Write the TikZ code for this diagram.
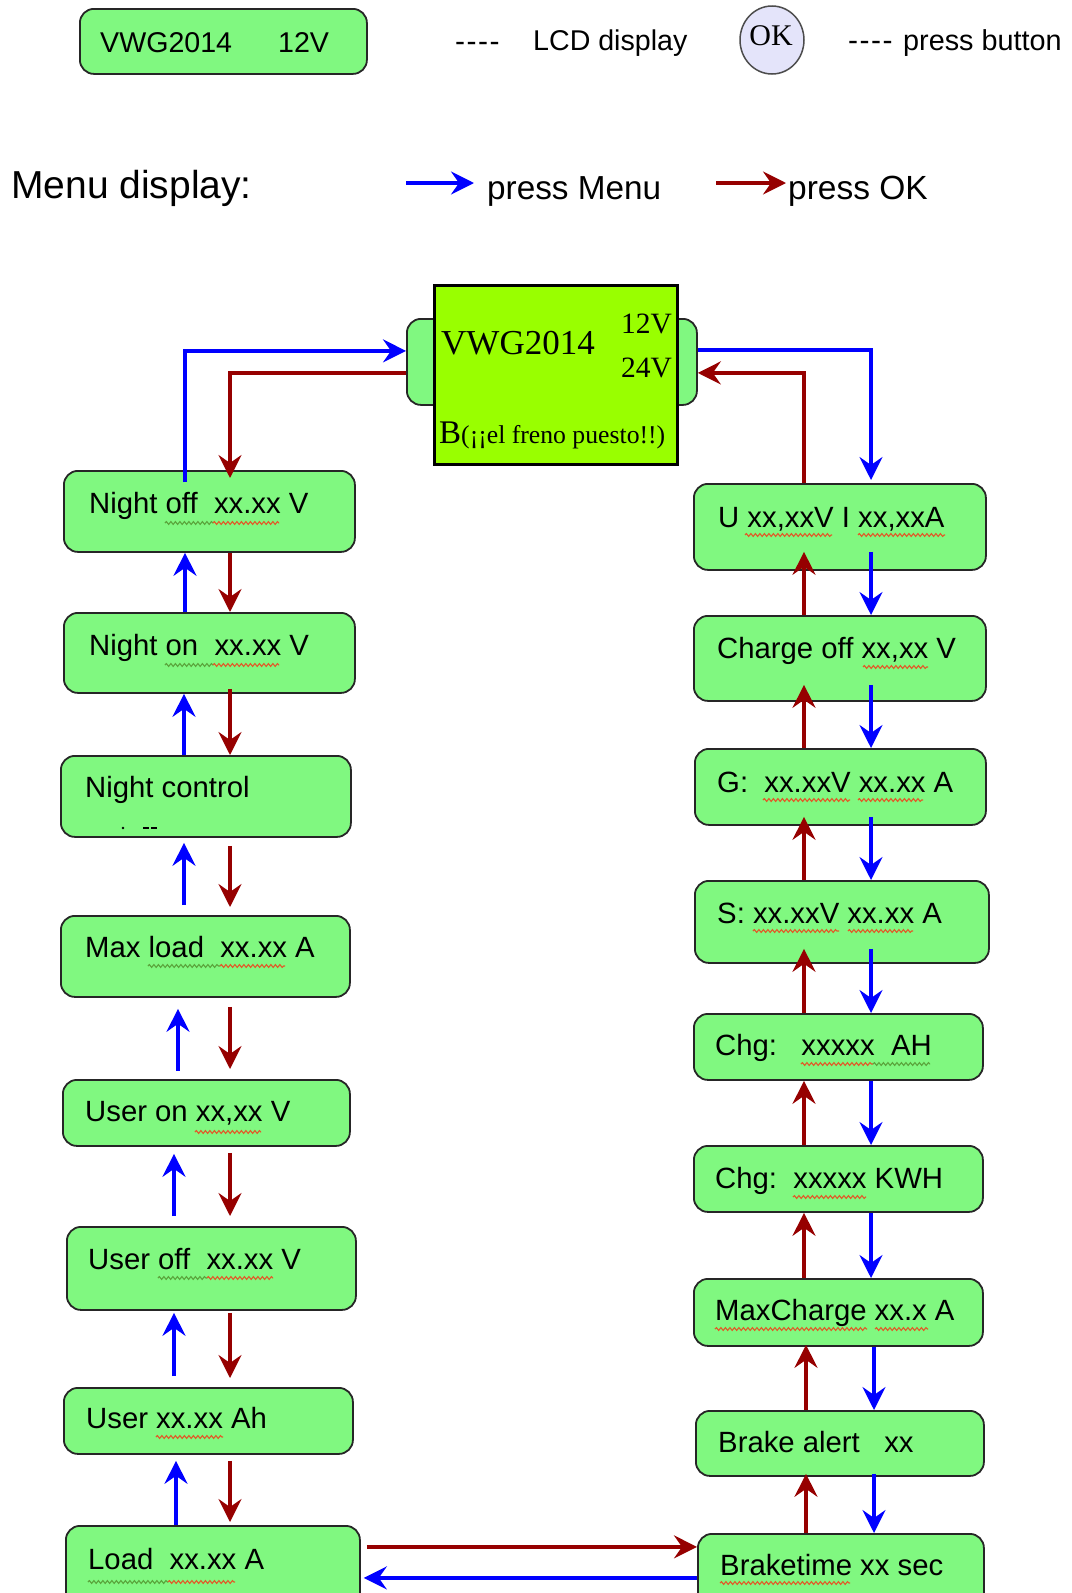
\documentclass[tikz,border=0pt]{standalone}
\usepackage{fontspec}
\setmainfont{Liberation Sans}
\newfontfamily\serifF{Liberation Serif}
\usetikzlibrary{arrows.meta,shapes.geometric,decorations.pathmorphing}
\definecolor{boxgreen}{RGB}{128,248,128}
\definecolor{lcdgreen}{RGB}{153,255,0}
\definecolor{okfill}{RGB}{228,228,250}
\definecolor{menublue}{RGB}{0,0,255}
\definecolor{okred}{RGB}{150,0,0}
\definecolor{sqred}{RGB}{225,90,40}
\definecolor{sqgreen}{RGB}{90,165,60}
\newcommand\hy{\mbox{-}}
\newcommand\fsz[1]{\fontsize{#1}{#1}\selectfont}
\begin{document}
\begin{tikzpicture}[x=1pt,y=-1pt,
  box/.style={draw=black!85, line width=1.8pt, rounded corners=14pt, fill=boxgreen, inner sep=0pt, anchor=north west},
  txt/.style={inner sep=0pt, anchor=base west, font=\fsz{29.3}},
  arr/.style={line width=3.2pt, -{Stealth[length=23pt,width=23pt,inset=8pt]}},
  bluearr/.style={arr, draw=menublue},
  redarr/.style={arr, draw=okred},
  squig/.style={line width=1.1pt, decorate, decoration={snake, segment length=4.5pt, amplitude=1.4pt}},
]
\useasboundingbox (0,0) rectangle (1071,1593);

% ---------- legend ----------
\node[box, minimum width=287pt, minimum height=65pt] (legbox) at (79,8) {};
\node[txt, font=\fsz{28.6}] (legtxt) at (100,52) {VWG2014\hspace{46pt}12V};
\node[txt, font=\fsz{30}] (dash1) at (455,51) {\hy\kern1.5pt\hy\kern1.5pt\hy\kern1.5pt\hy};
\node[txt, font=\fsz{28.6}] (lcdlbl) at (533,50) {LCD display};
\node[ellipse, draw=black!70, line width=1.5pt, fill=okfill, minimum width=64pt, minimum height=68pt, inner sep=0pt] (okbtn) at (772,40) {};
\node[anchor=base, inner sep=0pt, font=\serifF\fsz{30}] (oktxt) at (771,45) {OK};
\node[txt, font=\fsz{30}] (dash2) at (848,50) {\hy\kern1.5pt\hy\kern1.5pt\hy\kern1.5pt\hy};
\node[txt, font=\fsz{28.8}] (btnlbl) at (903,50) {press button};

\node[txt, font=\fsz{39}] (menutitle) at (11,198) {Menu display:};
\coordinate (lb1) at (406,183);
\coordinate (lb2) at (474,183);
\draw[bluearr] (lb1) -- (lb2);
\node[txt, font=\fsz{33.3}] (pm) at (487,199) {press Menu};
\coordinate (lr1) at (716,183);
\coordinate (lr2) at (786,183);
\draw[redarr] (lr1) -- (lr2);
\node[txt, font=\fsz{33.5}] (pok) at (788,199) {press OK};

% ---------- top display ----------
\node[box, minimum width=290pt, minimum height=86pt] (main) at (406,318) {};
\node[draw=black, line width=2.5pt, fill=lcdgreen, anchor=north west, minimum width=243pt, minimum height=179pt, inner sep=0pt] (lcd) at (433,284) {};
\node[anchor=base west, inner sep=0pt, font=\serifF\fsz{35}] (lcdname) at (441,354) {VWG2014};
\node[anchor=base east, inner sep=0pt, font=\serifF\fsz{29.5}] (v12) at (672,333) {12V};
\node[anchor=base east, inner sep=0pt, font=\serifF\fsz{29.5}] (v24) at (672,377) {24V};
\node[anchor=base west, inner sep=0pt, font=\serifF] (brk) at (439,443) {{\fsz{33}B}{\fsz{25.7}(¡¡el freno puesto!!)}};

% ---------- left column ----------
\node[box, minimum width=291pt, minimum height=81pt] (nightoff) at (63,470) {};
\node[box, minimum width=291pt, minimum height=80pt] (nighton) at (63,612) {};
\node[box, minimum width=290pt, minimum height=81pt] (nightctl) at (60,755) {};
\node[box, minimum width=289pt, minimum height=81pt] (maxload) at (60,915) {};
\node[box, minimum width=287pt, minimum height=66pt] (useron) at (62,1079) {};
\node[box, minimum width=289pt, minimum height=83pt] (useroff) at (66,1226) {};
\node[box, minimum width=289pt, minimum height=66pt] (user) at (63,1387) {};
\node[box, minimum width=294pt, minimum height=85pt] (load) at (65,1525) {};

\node[txt] (t1) at (89,513) {Night off\ \ xx.xx V};
\node[txt] (t2) at (89,655) {Night on\ \ xx.xx V};
\node[txt] (t3) at (85,797) {Night control};
\node[txt] (t4) at (85,957) {Max load\ \ xx.xx A};
\node[txt] (t5) at (85,1121) {User on xx,xx V};
\node[txt] (t6) at (88,1269) {User off\ \ xx.xx V};
\node[txt] (t7) at (86,1428) {User xx.xx Ah};
\node[txt] (t8) at (88,1569) {Load\ \ xx.xx A};
\fill (123,828) circle (1.3pt);
\draw[line width=1.3pt] (143,828) -- (149,828) (151,828) -- (157,828);

% ---------- right column ----------
\node[box, minimum width=292pt, minimum height=86pt] (U) at (693,483) {};
\node[box, minimum width=292pt, minimum height=85pt] (chargeoff) at (693,615) {};
\node[box, minimum width=291pt, minimum height=76pt] (G) at (694,748) {};
\node[box, minimum width=294pt, minimum height=82pt] (S) at (694,880) {};
\node[box, minimum width=289pt, minimum height=66pt] (chgah) at (693,1013) {};
\node[box, minimum width=289pt, minimum height=66pt] (chgkwh) at (693,1145) {};
\node[box, minimum width=289pt, minimum height=67pt] (maxch) at (693,1278) {};
\node[box, minimum width=288pt, minimum height=65pt] (brake) at (695,1410) {};
\node[box, minimum width=286pt, minimum height=80pt] (braketime) at (697,1533) {};

\node[txt] (r1) at (718,527) {U xx,xxV I xx,xxA};
\node[txt] (r2) at (717,658) {Charge off xx,xx V};
\node[txt] (r3) at (717,792) {G:\ \ xx.xxV xx.xx A};
\node[txt] (r4) at (717,923) {S: xx.xxV xx.xx A};
\node[txt] (r5) at (715,1055) {Chg:\ \ \ xxxxx\ \ AH};
\node[txt] (r6) at (715,1188.5) {Chg:\ \ xxxxx KWH};
\node[txt] (r7) at (715,1320) {MaxCharge xx.x A};
\node[txt] (r8) at (718,1452) {Brake alert\ \ \ xx};
\node[txt] (r9) at (720,1575) {Braketime xx sec};

% ---------- spell-check squiggles ----------
\draw[squig, sqgreen] (165,523) -- (213,523);
\draw[squig, sqred] (213,523) -- (279,523);
\draw[squig, sqgreen] (165,665) -- (213,665);
\draw[squig, sqred] (213,665) -- (279,665);
\draw[squig, sqgreen] (148,966) -- (220,966);
\draw[squig, sqred] (220,966) -- (285,966);
\draw[squig, sqred] (195,1132) -- (261,1132);
\draw[squig, sqgreen] (158,1278) -- (207,1278);
\draw[squig, sqred] (207,1278) -- (273,1278);
\draw[squig, sqred] (156,1437) -- (223,1437);
\draw[squig, sqgreen] (88,1582) -- (168,1582);
\draw[squig, sqred] (168,1582) -- (235,1582);
\draw[squig, sqred] (745,535) -- (832,535);
\draw[squig, sqred] (858,535) -- (945,535);
\draw[squig, sqred] (863,667) -- (928,667);
\draw[squig, sqred] (763,800) -- (850,800);
\draw[squig, sqred] (858,800) -- (923,800);
\draw[squig, sqred] (753,931) -- (839,931);
\draw[squig, sqred] (848,931) -- (913,931);
\draw[squig, sqred] (801,1064) -- (873,1064);
\draw[squig, sqgreen] (873,1064) -- (930,1064);
\draw[squig, sqred] (793,1197) -- (866,1197);
\draw[squig, sqred] (715,1329) -- (867,1329);
\draw[squig, sqred] (875,1329) -- (928,1329);
\draw[squig, sqred] (720,1583) -- (850,1583);

% ---------- column x positions ----------
\coordinate (LB1) at (185,0);
\coordinate (LB2) at (184,0);
\coordinate (LB3) at (178,0);
\coordinate (LB4) at (174,0);
\coordinate (LB5) at (176,0);
\coordinate (LR) at (230,0);
\coordinate (RR) at (804,0);
\coordinate (RR2) at (806,0);
\coordinate (RB) at (871,0);
\coordinate (RB2) at (874,0);

% ---------- top loops ----------
\draw[bluearr, shorten <=-12pt] (nightoff.north -| LB1) |- ([yshift=11pt]main.west);
\draw[redarr, shorten >=-8pt] ([yshift=-11pt]main.west) -| (nightoff.north -| LR);
\draw[bluearr, shorten >=3pt] ([yshift=12pt]main.east) -| (U.north -| RB);
\draw[redarr] (U.north -| RR) |- ([yshift=-11pt]main.east);

% ---------- left column arrows ----------
\draw[bluearr] (nighton.north -| LB1) -- (nightoff.south -| LB1);
\draw[redarr] (nightoff.south -| LR) -- (nighton.north -| LR);
\draw[bluearr] (nightctl.north -| LB2) -- (nighton.south -| LB2);
\draw[redarr, shorten <=-5pt] (nighton.south -| LR) -- (nightctl.north -| LR);
\draw[bluearr, shorten <=10pt, shorten >=5pt] (maxload.north -| LB2) -- (nightctl.south -| LB2);
\draw[redarr, shorten <=8pt, shorten >=8pt] (nightctl.south -| LR) -- (maxload.north -| LR);
\draw[bluearr, shorten <=8pt, shorten >=11pt] (useron.north -| LB3) -- (maxload.south -| LB3);
\draw[redarr, shorten <=9pt, shorten >=10pt] (maxload.south -| LR) -- (useron.north -| LR);
\draw[bluearr, shorten <=10pt, shorten >=7pt] (useroff.north -| LB4) -- (useron.south -| LB4);
\draw[redarr, shorten <=6pt, shorten >=10pt] (useron.south -| LR) -- (useroff.north -| LR);
\draw[bluearr, shorten <=11pt, shorten >=2pt] (user.north -| LB4) -- (useroff.south -| LB4);
\draw[redarr, shorten <=2pt, shorten >=9pt] (useroff.south -| LR) -- (user.north -| LR);
\draw[bluearr, shorten >=6pt] (load.north -| LB5) -- (user.south -| LB5);
\draw[redarr, shorten <=6pt, shorten >=3pt] (user.south -| LR) -- (load.north -| LR);

% ---------- right column arrows ----------
\draw[redarr, shorten >=-19pt] (chargeoff.north -| RR) -- (U.south -| RR);
\draw[bluearr, shorten <=-19pt] (U.south -| RB) -- (chargeoff.north -| RB);
\draw[redarr, shorten >=-17pt] (G.north -| RR) -- (chargeoff.south -| RR);
\draw[bluearr, shorten <=-17pt] (chargeoff.south -| RB) -- (G.north -| RB);
\draw[redarr, shorten >=-9pt] (S.north -| RR) -- (G.south -| RR);
\draw[bluearr, shorten <=-9pt] (G.south -| RB) -- (S.north -| RB);
\draw[redarr, shorten >=-15pt] (chgah.north -| RR) -- (S.south -| RR);
\draw[bluearr, shorten <=-15pt] (S.south -| RB) -- (chgah.north -| RB);
\draw[redarr] (chgkwh.north -| RR) -- (chgah.south -| RR);
\draw[bluearr] (chgah.south -| RB) -- (chgkwh.north -| RB);
\draw[redarr] (maxch.north -| RR) -- (chgkwh.south -| RR);
\draw[bluearr] (chgkwh.south -| RB) -- (maxch.north -| RB);
\draw[redarr, shorten >=-2pt] (brake.north -| RR2) -- (maxch.south -| RR2);
\draw[bluearr] (maxch.south -| RB2) -- (brake.north -| RB2);
\draw[redarr, shorten >=-3pt] (braketime.north -| RR2) -- (brake.south -| RR2);
\draw[bluearr, shorten <=-3pt] (brake.south -| RB2) -- (braketime.north -| RB2);

% ---------- bottom links ----------
\coordinate (lrt) at ([yshift=21.5pt]load.east);
\draw[redarr, shorten <=6pt] (lrt) -- (lrt -| braketime.west);
\coordinate (btl) at ([yshift=-4pt]braketime.west);
\draw[bluearr, shorten >=3pt] (btl) -- (btl -| load.east);
\end{tikzpicture}
\end{document}
